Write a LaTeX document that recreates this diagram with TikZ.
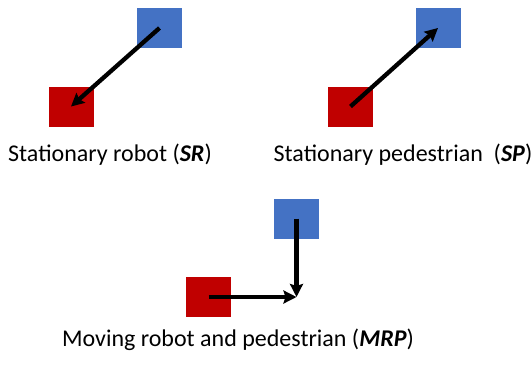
\documentclass[tikz,border=0pt]{standalone}
\usepackage{fontspec}
\setmainfont{Carlito}
\usetikzlibrary{arrows.meta,positioning}

\begin{document}
\begin{tikzpicture}[x=1pt,y=-1pt,
        box/.style={minimum width=45pt,minimum height=40pt,inner sep=0pt,outer sep=0pt},
        robot/.style={box,fill={rgb,255:red,192;green,0;blue,0}},
        ped/.style={box,fill={rgb,255:red,68;green,114;blue,196}},
        move/.style={line width=4.3pt,-{Stealth[length=13pt,width=13pt,inset=2pt]}},
        caption/.style={font=\fontsize{24}{28}\selectfont,inner sep=0pt}]
   \useasboundingbox (0,0) rectangle (532,367);
   % stationary robot
   \node (pedA) [ped] at (159.5,28) {};
   \node (robA) [robot] at (71,106.5) {};
   \draw[move] (pedA.center) -- (robA.center);
   \node (capA) [caption] at (110,155) {Stationary robot (\textbf{\textit{SR}})};
   % stationary pedestrian
   \node (pedB) [ped] at (438,28) {};
   \node (robB) [robot] at (350.5,106.5) {};
   \draw[move] (robB.center) -- (pedB.center);
   \node (capB) [caption] at (403,155) {Stationary pedestrian\ \ (\textbf{\textit{SP}})};
   % moving robot and pedestrian
   \node (pedC) [ped] at (296.5,218.5) {};
   \node (robC) [robot] at (208.5,297) {};
   \coordinate (meet) at (296.5,297);
   \draw[move] (pedC.center) -- (meet);
   \draw[move] (robC.center) -- (meet);
   \node (capC) [caption] at (238,340) {Moving robot and pedestrian (\textbf{\textit{MRP}})};
\end{tikzpicture}
\end{document}
